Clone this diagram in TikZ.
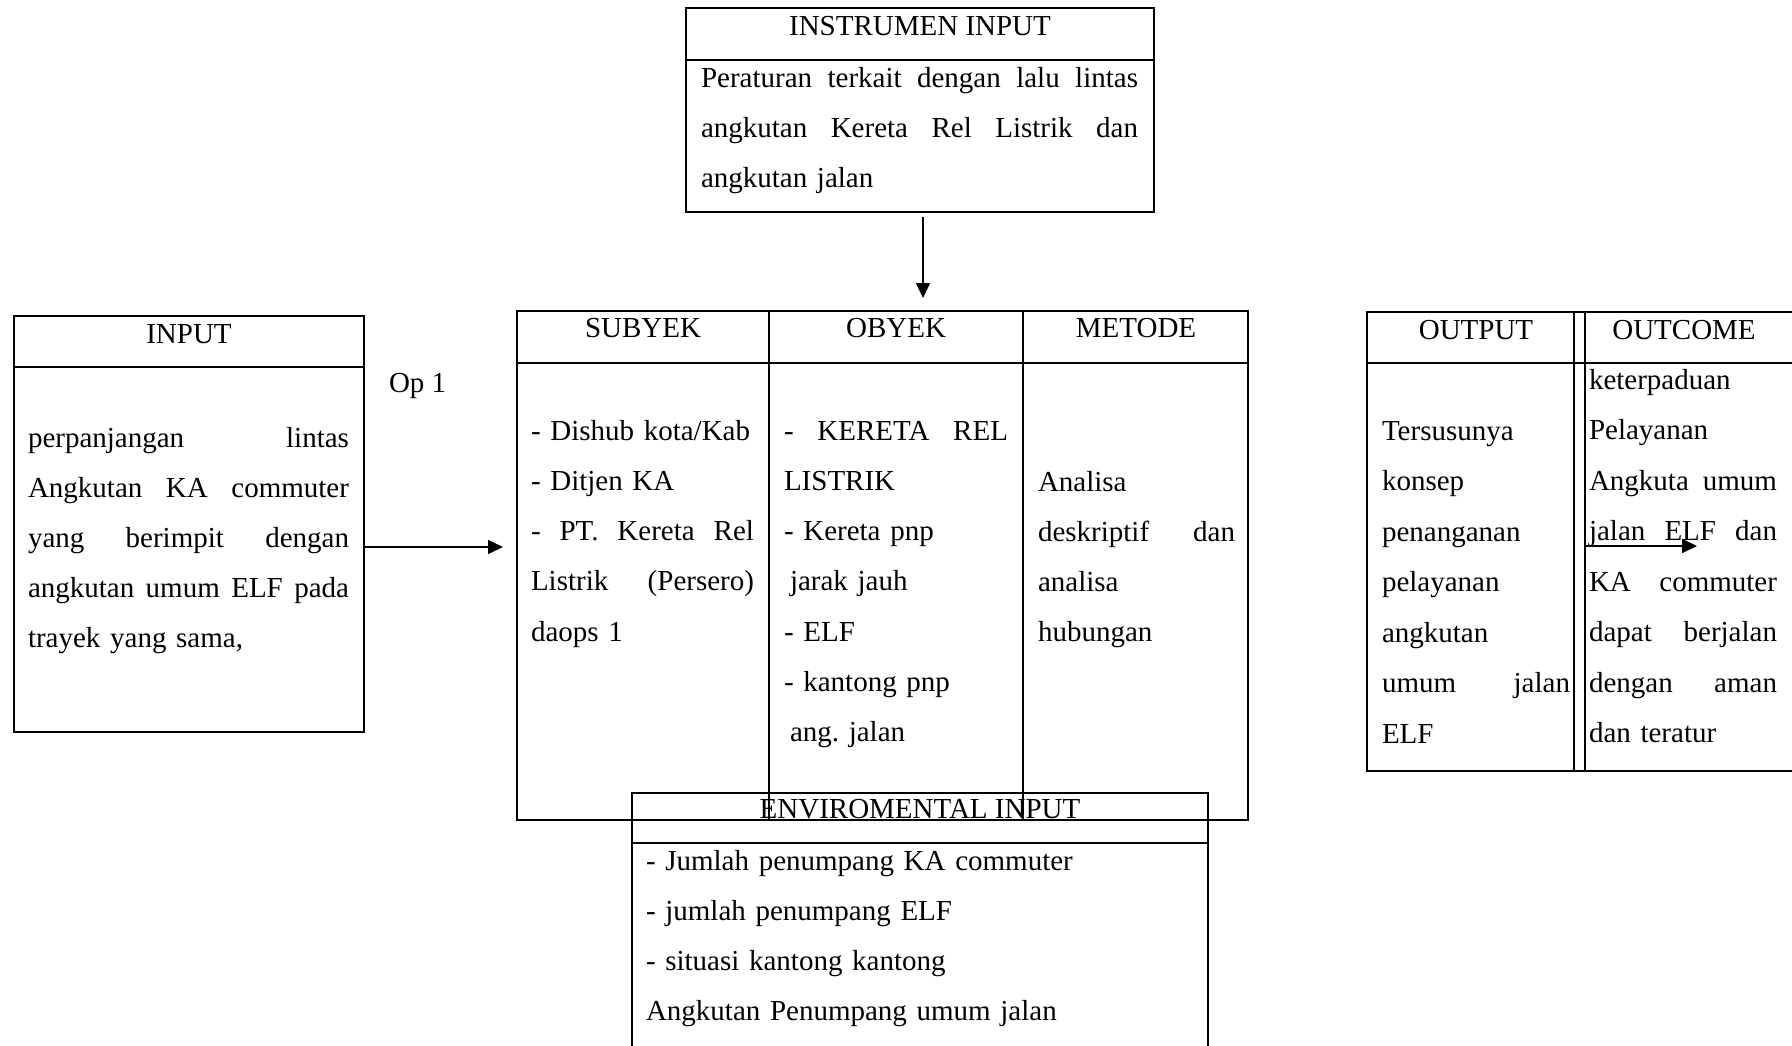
\documentclass[tikz,border=0pt]{standalone}
\usepackage{fontspec}
\setmainfont{Liberation Serif}
\usetikzlibrary{arrows.meta}
\frenchspacing
\newcommand\jst[2]{\leavevmode\hbox to #1{\spaceskip=0.25em plus 10em\relax #2}}
\begin{document}
\begin{tikzpicture}[x=0.5pt,y=-0.5pt,
  box/.style={draw,line width=1pt,inner sep=0pt,outer sep=0pt,anchor=north west},
  rule/.style={line width=1pt},
  txt/.style={inner sep=0pt,outer sep=0pt,font=\fontsize{14.5pt}{25.15pt}\selectfont\frenchspacing},
  head/.style={txt,anchor=base},
  body/.style={txt,anchor=base west,align=left,text width=#1},
  arr/.style={line width=0.75pt,-{Triangle[length=7.5pt,width=7pt]}}
]
\useasboundingbox (0,0) rectangle (1792,1045);
\clip (0,0) rectangle (1792,1045);

% ---------- INSTRUMEN INPUT ----------
\node[box,minimum width=234pt,minimum height=102pt] (instr) at (686,8) {};
\draw[rule] (686,60) -- (1154,60);
\node[head] (instrh) at (920,35) {INSTRUMEN INPUT};
\node[body=218.5pt] (instrb) at (701,87)
  {\jst{218.5pt}{Peraturan terkait dengan lalu lintas}\\
   \jst{218.5pt}{angkutan Kereta Rel Listrik dan}\\
   angkutan jalan};

% ---------- INPUT ----------
\node[box,minimum width=175pt,minimum height=208pt] (inp) at (14,316) {};
\draw[rule] (14,367) -- (364,367);
\node[head] (inph) at (189,343) {INPUT};
\node[body=160.5pt,font=\fontsize{14.5pt}{25pt}\selectfont] (inpb) at (28,447)
  {\jst{160.5pt}{perpanjangan lintas}\\
   \jst{160.5pt}{Angkutan KA commuter}\\
   \jst{160.5pt}{yang berimpit dengan}\\
   \jst{160.5pt}{angkutan umum ELF pada}\\
   trayek yang sama,};
\node[txt,anchor=base west] (op) at (389,392) {Op 1};

% ---------- SUBYEK / OBYEK / METODE ----------
\node[box,minimum width=365.5pt,minimum height=254.5pt] (mid) at (517,311) {};
\draw[rule] (517,363) -- (1248,363);
\draw[rule] (769,311) -- (769,820);
\draw[rule] (1023,311) -- (1023,820);
\node[head] (subh) at (643,337) {SUBYEK};
\node[head] (obh) at (896,337) {OBYEK};
\node[head] (meth) at (1136,337) {METODE};
\node[body=111.5pt] (subb) at (531,440)
  {- Dishub kota/Kab\\
   - Ditjen KA\\
   \jst{111.5pt}{- PT. Kereta Rel}\\
   \jst{111.5pt}{Listrik (Persero)}\\
   daops 1};
\node[body=112pt] (obb) at (784,440)
  {\jst{112pt}{- KERETA REL}\\
   LISTRIK\\
   - Kereta pnp\\
   \hspace*{3pt}jarak jauh\\
   - ELF\\
   - kantong pnp\\
   \hspace*{3pt}ang. jalan};
\node[body=98.5pt] (metb) at (1038,491)
  {Analisa\\
   \jst{98.5pt}{deskriptif dan}\\
   analisa\\
   hubungan};

% ---------- ENVIROMENTAL INPUT ----------
\node[box,minimum width=288pt,minimum height=150pt] (env) at (632,793) {};
\draw[rule] (632,843) -- (1208,843);
\node[head] (envh) at (920,818) {ENVIROMENTAL INPUT};
\node[body=275pt,font=\fontsize{14.5pt}{25pt}\selectfont] (envb) at (646,870)
  {- Jumlah penumpang KA commuter\\
   - jumlah penumpang ELF\\
   - situasi kantong kantong\\
   Angkutan Penumpang umum jalan};

% ---------- OUTPUT / OUTCOME ----------
\node[box,minimum width=230pt,minimum height=229.5pt] (outb) at (1367,312) {};
\draw[rule] (1367,363) -- (1830,363);
\draw[rule] (1574,312) -- (1574,771);
\draw[rule] (1585,312) -- (1585,771);
\node[head] (outh) at (1476,339) {OUTPUT};
\node[head] (ocmh) at (1684,339) {OUTCOME};
\node[body=94pt,font=\fontsize{14.5pt}{25.25pt}\selectfont] (outt) at (1382,440)
  {Tersusunya\\
   konsep\\
   penanganan\\
   pelayanan\\
   angkutan\\
   \jst{94pt}{umum jalan}\\
   ELF};
\node[body=94pt,font=\fontsize{14.5pt}{25.28pt}\selectfont] (ocmt) at (1589,389)
  {keterpaduan\\
   Pelayanan\\
   \jst{94pt}{Angkuta umum}\\
   \jst{94pt}{jalan ELF dan}\\
   \jst{94pt}{KA commuter}\\
   \jst{94pt}{dapat berjalan}\\
   \jst{94pt}{dengan aman}\\
   dan teratur};

% ---------- connectors ----------
\coordinate (downtip) at (923,298);
\coordinate (optip) at (503,547);
\coordinate (ocmstart) at (1586,546);
\coordinate (ocmtip) at (1697,546);
\draw[arr] ([xshift=1.5pt,yshift=-2.5pt]instr.south) -- (downtip);
\draw[arr] ([yshift=-11.5pt]inp.east) -- (optip);
\draw[arr] (ocmstart) -- (ocmtip);
\end{tikzpicture}
\end{document}
